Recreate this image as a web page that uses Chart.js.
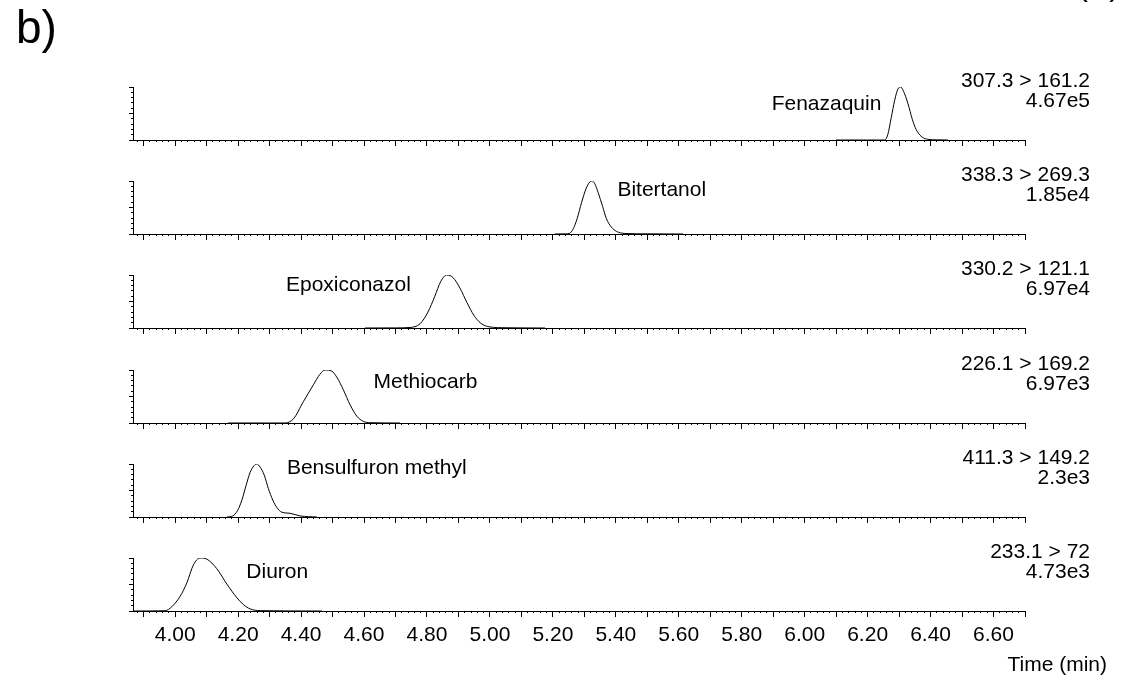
<!DOCTYPE html>
<html>
<head>
<meta charset="utf-8">
<title>MRM chromatograms</title>
<script src="https://cdn.jsdelivr.net/npm/chart.js@4.4.1/dist/chart.umd.min.js"></script>
<style>
  html, body { margin: 0; padding: 0; background: #fff; }
  #figure { position: relative; width: 1124px; height: 691px; overflow: hidden; }
  #figure canvas { position: absolute; left: 0; }
</style>
</head>
<body>
<div id="figure"></div>
<script>
// MRM traces, one panel per compound (top to bottom), time in min,
// intensity in % of the base peak of each trace
const compounds = ['Fenazaquin', 'Bitertanol', 'Epoxiconazol', 'Methiocarb', 'Bensulfuron methyl', 'Diuron'];
const transitions = ['307.3 > 161.2', '338.3 > 269.3', '330.2 > 121.1', '226.1 > 169.2', '411.3 > 149.2', '233.1 > 72'];
const maxIntensity = [4.67e5, 1.85e4, 6.97e4, 6.97e3, 2.3e3, 4.73e3];

const fenazaquinTime = [6.10, 6.20, 6.254, 6.264, 6.275, 6.286, 6.296, 6.305, 6.314, 6.328, 6.342, 6.354, 6.370, 6.391, 6.420, 6.455];
const fenazaquinPct  = [0, 0, 0, 10, 42, 75, 96, 100, 92, 69, 39, 20, 7, 1.3, 0.3, 0];

const bitertanolTime = [5.206, 5.240, 5.252, 5.265, 5.277, 5.291, 5.305, 5.317, 5.325, 5.333, 5.344, 5.358, 5.370, 5.386, 5.402, 5.429, 5.500, 5.614];
const bitertanolPct  = [0, 0.3, 1, 10, 29, 59, 85, 98, 100, 95, 78, 52, 29, 13, 5, 1, 0.3, 0];

const epoxiconazolTime = [4.603, 4.700, 4.746, 4.778, 4.803, 4.825, 4.844, 4.863, 4.883, 4.905, 4.927, 4.949, 4.971, 5.000, 5.048, 5.175];
const epoxiconazolPct  = [0, 0.2, 1, 8, 30, 60, 88, 100, 95, 75, 48, 24, 9, 2, 0.5, 0];

const methiocarbTime = [4.168, 4.300, 4.349, 4.376, 4.407, 4.439, 4.460, 4.476, 4.497, 4.515, 4.534, 4.556, 4.577, 4.598, 4.619, 4.714];
const methiocarbPct  = [0, 0, 0, 8, 40, 72, 92, 100, 98, 85, 63, 34, 13, 3, 0.6, 0];

const bensulfuronTime = [4.164, 4.183, 4.198, 4.212, 4.225, 4.238, 4.251, 4.259, 4.270, 4.283, 4.296, 4.310, 4.323, 4.339, 4.365, 4.397, 4.450];
const bensulfuronPct  = [0, 2, 12, 32, 59, 84, 97, 100, 94, 79, 54, 32, 18, 9, 7, 2, 0];

const diuronTime = [3.868, 3.968, 3.990, 4.016, 4.037, 4.058, 4.079, 4.100, 4.132, 4.164, 4.196, 4.217, 4.238, 4.270, 4.466];
const diuronPct  = [0, 0.5, 8.5, 28, 53, 87, 100, 98, 80, 51, 25, 12, 4, 0.7, 0];

const traceTimes = [fenazaquinTime, bitertanolTime, epoxiconazolTime, methiocarbTime, bensulfuronTime, diuronTime];
const tracePcts  = [fenazaquinPct, bitertanolPct, epoxiconazolPct, methiocarbPct, bensulfuronPct, diuronPct];

// where each compound name sits: [time, % of base peak] of its left/middle point
const nameAnchor = [[5.895, 68], [5.405, 82], [4.352, 80], [4.630, 77], [4.355, 92], [4.226, 73]];

const timeLabels = ['4.00', '4.20', '4.40', '4.60', '4.80', '5.00', '5.20', '5.40', '5.60', '5.80', '6.00', '6.20', '6.40', '6.60'];
const timeMin = 3.866;
const timeMax = 6.70;

// layout
const panelTops = [87, 181, 275, 370, 464, 558];
const panelHeight = 53;
const FAMILY = '"Liberation Sans", Arial, sans-serif';
const FONT = '21px ' + FAMILY;
const INK = '#000';

function fmtIntensity(v) {
    return v.toExponential().replace('+', '');
}

const annotate = {
    id: 'annotate',
    afterDraw(chart, args, opts) {
        const { ctx, chartArea, scales } = chart;
        const i = opts.index;
        ctx.save();
        ctx.fillStyle = INK;
        ctx.font = FONT;
        ctx.textBaseline = 'middle';

        // compound name beside its peak
        const [t, p] = nameAnchor[i];
        ctx.textAlign = 'left';
        ctx.fillText(compounds[i], scales.x.getPixelForValue(t), scales.y.getPixelForValue(p * maxIntensity[i] / 100));

        // transition and base peak intensity on the right
        ctx.textAlign = 'right';
        ctx.fillText(transitions[i], chartArea.right + 65, chartArea.top - 6);
        ctx.fillText(fmtIntensity(maxIntensity[i]), chartArea.right + 65, chartArea.top + 14);

        if (i === 0) {
            ctx.textAlign = 'left';
            ctx.textBaseline = 'alphabetic';
            ctx.font = '46px ' + FAMILY;
            ctx.fillText('b)', 16, 43);
            ctx.textAlign = 'right';
            ctx.font = '32px ' + FAMILY;
            ctx.fillText('(A)', 1120, -5);
        }
        if (i === compounds.length - 1) {
            ctx.textAlign = 'right';
            ctx.fillText('Time (min)', 1107, chartArea.bottom + 54);
        }
        ctx.restore();
    }
};

function makePanel(i) {
    const last = i === compounds.length - 1;
    const padTop = i === 0 ? panelTops[0] : 30;
    const padBottom = last ? 80 : 10;
    const canvas = document.createElement('canvas');
    canvas.width = 1124;
    canvas.height = padTop + panelHeight + padBottom;
    canvas.style.top = (panelTops[i] - padTop) + 'px';
    document.getElementById('figure').appendChild(canvas);

    const imax = maxIntensity[i];
    const points = traceTimes[i].map((t, k) => ({ x: t, y: tracePcts[i][k] * imax / 100 }));

    new Chart(canvas, {
        type: 'line',
        data: {
            datasets: [{
                data: points,
                borderColor: INK,
                borderWidth: 1,
                pointRadius: 0,
                fill: false,
                cubicInterpolationMode: 'monotone'
            }]
        },
        options: {
            responsive: false,
            animation: false,
            events: [],
            layout: { padding: { left: 133, right: 99, top: padTop, bottom: padBottom } },
            plugins: {
                legend: { display: false },
                tooltip: { enabled: false },
                annotate: { index: i }
            },
            scales: {
                // major time ticks every 0.1 min, labels every 0.2 min
                x: {
                    type: 'linear',
                    axis: 'x',
                    position: { y: 0 },
                    min: timeMin,
                    max: timeMax,
                    ticks: {
                        stepSize: 0.1,
                        includeBounds: false,
                        autoSkip: false,
                        maxRotation: 0,
                        display: last,
                        color: INK,
                        font: { family: FAMILY, size: 21 },
                        padding: 7,
                        callback: (v) => timeLabels.includes(v.toFixed(2)) ? v.toFixed(2) : ''
                    },
                    grid: { drawOnChartArea: false, tickLength: 5, color: INK },
                    border: { color: INK, width: 1 }
                },
                // minor time ticks
                xm: {
                    type: 'linear',
                    axis: 'x',
                    position: { y: 0 },
                    min: timeMin,
                    max: timeMax,
                    ticks: { stepSize: 0.02, includeBounds: false, display: false },
                    grid: { drawOnChartArea: false, tickLength: 2, color: INK },
                    border: { display: false }
                },
                y: {
                    type: 'linear',
                    axis: 'y',
                    position: { x: timeMin },
                    min: 0,
                    max: imax,
                    ticks: { stepSize: imax / 2, includeBounds: false, display: false },
                    grid: { drawOnChartArea: false, tickLength: 4, color: INK },
                    border: { color: INK, width: 1 }
                },
                ym: {
                    type: 'linear',
                    axis: 'y',
                    position: { x: timeMin },
                    min: 0,
                    max: imax,
                    ticks: { stepSize: imax / 10, includeBounds: false, display: false },
                    grid: { drawOnChartArea: false, tickLength: 2, color: INK },
                    border: { display: false }
                }
            }
        },
        plugins: [annotate]
    });
}

compounds.forEach((c, i) => makePanel(i));
</script>
</body>
</html>
